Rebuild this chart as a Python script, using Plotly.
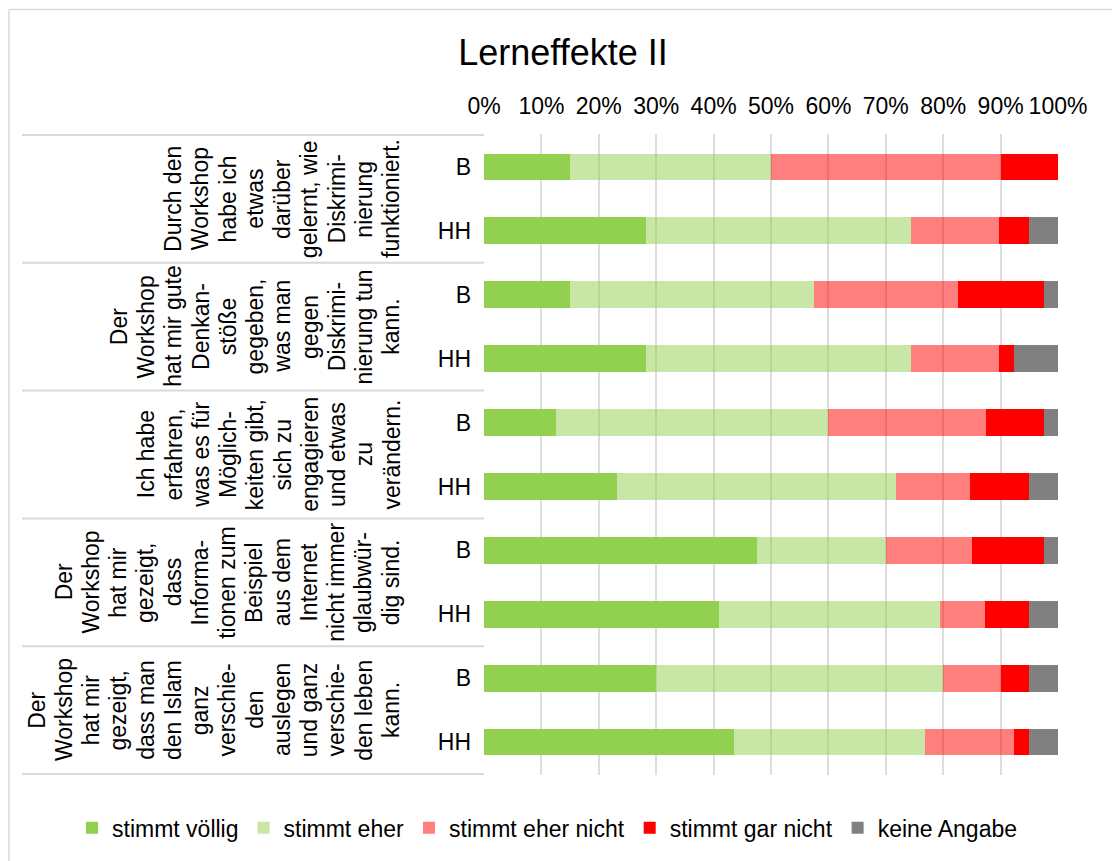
import plotly.graph_objects as go

# ---- data ----
groups = [
    ["Durch den", "Workshop", "habe ich", "etwas", "darüber", "gelernt, wie",
     "Diskrimi-", "nierung", "funktioniert."],
    ["Der", "Workshop", "hat mir gute", "Denkan-", "stöße", "gegeben,", "was man",
     "gegen", "Diskrimi-", "nierung tun", "kann."],
    ["Ich habe", "erfahren,", "was es für", "Möglich-", "keiten gibt,", "sich zu",
     "engagieren", "und etwas", "zu", "verändern."],
    ["Der", "Workshop", "hat mir", "gezeigt,", "dass", "Informa-", "tionen zum",
     "Beispiel", "aus dem", "Internet", "nicht immer", "glaubwür-", "dig sind."],
    ["Der", "Workshop", "hat mir", "gezeigt,", "dass man", "den Islam", "ganz",
     "verschie-", "den", "auslegen", "und ganz", "verschie-", "den leben", "kann."],
]
subgroups = ["B", "HH"]

series_names = ["stimmt völlig", "stimmt eher", "stimmt eher nicht",
                "stimmt gar nicht", "keine Angabe"]
series_colors = ["#92D050", "rgba(146,208,80,0.5)", "rgba(255,0,0,0.5)",
                 "#FF0000", "#808080"]

# values in % , rows ordered top to bottom: G1 B, G1 HH, G2 B, G2 HH, ...
stimmt_voellig   = [15.0, 28.2, 15.0, 28.2, 12.5, 23.1, 47.5, 41.0, 30.0, 43.6]
stimmt_eher      = [35.0, 46.2, 42.5, 46.2, 47.5, 48.7, 22.5, 38.5, 50.0, 33.3]
stimmt_eher_nicht= [40.0, 15.4, 25.0, 15.4, 27.5, 12.8, 15.0,  7.7, 10.0, 15.4]
stimmt_gar_nicht = [10.0,  5.1, 15.0,  2.6, 10.0, 10.3, 12.5,  7.7,  5.0,  2.6]
keine_angabe     = [ 0.0,  5.1,  2.5,  7.7,  2.5,  5.1,  2.5,  5.1,  5.0,  5.1]
series_values = [stimmt_voellig, stimmt_eher, stimmt_eher_nicht,
                 stimmt_gar_nicht, keine_angabe]

x_ticks = list(range(0, 101, 10))

# ---- layout constants (pixels) ----
W, H = 1112, 861
PL, PR, PT, PB = 484, 1058, 134, 777
FONT = "Liberation Sans, Arial, sans-serif"
FS = 23

row_ids = [f"g{g}-{s}" for g in range(len(groups)) for s in subgroups]
row_text = [s for g in range(len(groups)) for s in subgroups]

fig = go.Figure()
for name, color, vals in zip(series_names, series_colors, series_values):
    fig.add_trace(go.Bar(
        y=row_ids, x=vals, name=name, orientation="h",
        marker=dict(color=color, line=dict(width=0)),
        width=0.42, hoverinfo="x+name",
    ))

def px_to_paper_x(px):
    return (px - PL) / (PR - PL)

def px_to_paper_y(py):
    return (PB - py) / (PB - PT)

annotations = []
line_gap = 27.25
last_line_x = 391
for g, lines in enumerate(groups):
    n = len(lines)
    for i, ln in enumerate(lines):
        cx = last_line_x - (n - 1 - i) * line_gap
        annotations.append(dict(
            x=px_to_paper_x(cx), xref="paper", y=2 * g + 0.5, yref="y",
            text=ln, showarrow=False, textangle=-90,
            xanchor="center", yanchor="middle",
            font=dict(family=FONT, size=FS, color="#000000"),
        ))

shapes = []
# group divider lines in label column
for k in range(len(groups) + 1):
    shapes.append(dict(
        type="line", xref="paper", yref="y",
        x0=px_to_paper_x(22), x1=0, y0=2 * k - 0.5, y1=2 * k - 0.5,
        line=dict(color="#D9D9D9", width=2),
    ))
# chart border (left and top visible)
shapes.append(dict(type="line", xref="paper", yref="paper",
                   x0=px_to_paper_x(9), x1=px_to_paper_x(9),
                   y0=px_to_paper_y(9), y1=px_to_paper_y(900),
                   line=dict(color="#D9D9D9", width=1.5)))
shapes.append(dict(type="line", xref="paper", yref="paper",
                   x0=px_to_paper_x(9), x1=px_to_paper_x(1200),
                   y0=px_to_paper_y(9), y1=px_to_paper_y(9),
                   line=dict(color="#D9D9D9", width=1.5)))

fig.update_layout(
    width=W, height=H, autosize=False,
    margin=dict(l=PL, r=W - PR, t=PT, b=H - PB, pad=0),
    paper_bgcolor="white", plot_bgcolor="white",
    barmode="stack", bargap=0.58,
    font=dict(family=FONT, size=FS, color="#000000"),
    title=dict(text="Lerneffekte II", x=563 / W, xref="container", xanchor="center",
               y=1 - 52 / H, yref="container", yanchor="middle",
               font=dict(family=FONT, size=36, color="#000000")),
    xaxis=dict(side="top", range=[0, 100], tickvals=x_ticks,
               ticktext=[f"{v}%" for v in x_ticks],
               showgrid=True, gridcolor="#DDDDDD", gridwidth=2,
               zeroline=False, showline=False, ticks="",
               ticklabelstandoff=14, fixedrange=True,
               tickfont=dict(family=FONT, size=FS, color="#000000")),
    yaxis=dict(type="category", categoryorder="array", categoryarray=row_ids,
               tickvals=row_ids, ticktext=row_text, autorange="reversed",
               showgrid=False, zeroline=False, showline=False, ticks="",
               ticklabelstandoff=12, fixedrange=True,
               tickfont=dict(family=FONT, size=FS, color="#000000")),
    legend=dict(orientation="h", xref="paper", yref="paper",
                x=px_to_paper_x(72), xanchor="left",
                y=px_to_paper_y(830), yanchor="middle",
                font=dict(family=FONT, size=FS, color="#000000"),
                traceorder="normal", itemwidth=30),
    annotations=annotations, shapes=shapes,
)

fig.write_html("out.html", post_script="document.body.style.margin='0';",
               config={"displayModeBar": False})
